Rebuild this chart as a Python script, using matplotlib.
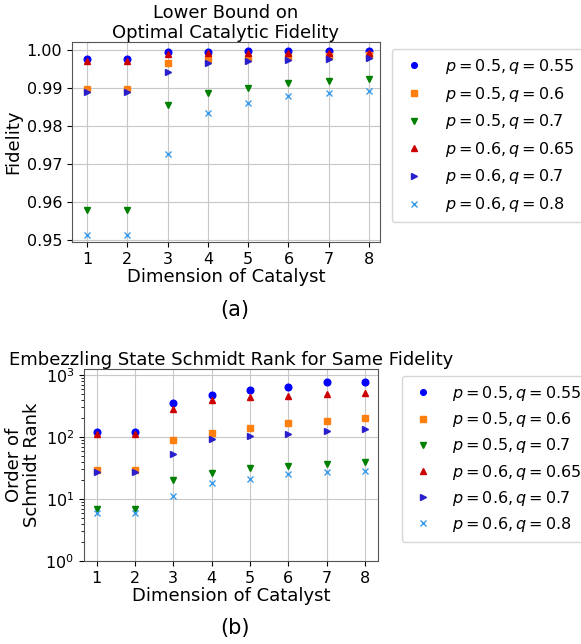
import numpy as np
import matplotlib.pyplot as plt

# Catalyst dimensions
dims = [1, 2, 3, 4, 5, 6, 7, 8]

labels = [r"$p=0.5, q=0.55$", r"$p=0.5, q=0.6$", r"$p=0.5, q=0.7$",
          r"$p=0.6, q=0.65$", r"$p=0.6, q=0.7$", r"$p=0.6, q=0.8$"]
markers = ["o", "s", "v", "^", ">", "x"]
colors = ["blue", "#ff7f0e", "green", "#cc0000", "#2a1fcc", "#3a9bea"]

# Fidelity (panel a)
fid_055 = [0.99754, 0.99754, 0.99938, 0.99960, 0.99962, 0.99964, 0.99968, 0.99968]
fid_06 = [0.98988, 0.98988, 0.99657, 0.99770, 0.99800, 0.99820, 0.99850, 0.99870]
fid_07 = [0.95792, 0.95792, 0.98556, 0.98870, 0.99010, 0.99140, 0.99190, 0.99250]
fid_065 = [0.99710, 0.99710, 0.99890, 0.99910, 0.99920, 0.99925, 0.99930, 0.99930]
fid_p6_07 = [0.98900, 0.98900, 0.99430, 0.99670, 0.99700, 0.99750, 0.99760, 0.99790]
fid_08 = [0.95140, 0.95140, 0.97280, 0.98350, 0.98600, 0.98790, 0.98860, 0.98930]

# Schmidt rank (panel b)
rank_055 = [120, 120, 355, 470, 580, 640, 770, 770]
rank_06 = [29, 29, 89, 117, 141, 168, 183, 201]
rank_07 = [7, 7, 20, 26, 32, 34, 37, 40]
rank_065 = [110, 110, 285, 395, 435, 455, 500, 515]
rank_p6_07 = [27, 27, 53, 94, 102, 112, 124, 134]
rank_08 = [6, 6, 11, 18, 21, 25, 27, 28]

fids = [fid_055, fid_06, fid_07, fid_065, fid_p6_07, fid_08]
ranks = [rank_055, rank_06, rank_07, rank_065, rank_p6_07, rank_08]

plt.rcParams['font.size'] = 13
plt.rcParams['xtick.labelsize'] = 11.5
plt.rcParams['ytick.labelsize'] = 11.5

fig = plt.figure(figsize=(5.81, 6.44), dpi=100)
W, H = 581, 644
ax1 = fig.add_axes([72 / W, 1 - 242 / H, 308 / W, 200 / H])
ax2 = fig.add_axes([84 / W, 1 - 561 / H, 294 / W, 192 / H])

for vals, lab, m, c in zip(fids, labels, markers, colors):
    ax1.plot(dims, vals, linestyle="none", marker=m, color=c, markersize=4.8, label=lab)
for vals, lab, m, c in zip(ranks, labels, markers, colors):
    ax2.plot(dims, vals, linestyle="none", marker=m, color=c, markersize=4.8, label=lab)

ax1.set_ylim(0.9496, 1.0021)
ax1.set_yticks([0.95, 0.96, 0.97, 0.98, 0.99, 1.00])
ax1.set_xlim(0.63, 8.27)
ax1.set_xticks(dims)
ax1.grid(True, color="#c8c8c8")
ax1.set_axisbelow(True)
ax1.set_ylabel("Fidelity", labelpad=3)
ax1.set_xlabel("Dimension of Catalyst", labelpad=1)
ax1.set_title("Lower Bound on\nOptimal Catalytic Fidelity", pad=3, fontsize=13,
              linespacing=1.1)

ax2.set_yscale("log")
ax2.set_ylim(1, 1250)
ax2.set_xlim(0.67, 8.34)
ax2.set_xticks(dims)
ax2.grid(True, color="#c8c8c8")
ax2.set_axisbelow(True)
ax2.set_ylabel("Order of\nSchmidt Rank", labelpad=3, linespacing=1.0)
ax2.set_xlabel("Dimension of Catalyst", labelpad=1)
ax2.set_title("Embezzling State Schmidt Rank for Same Fidelity", pad=3, fontsize=13)

for ax in (ax1, ax2):
    for s in ax.spines.values():
        s.set_color("#555555")

ax1.legend(loc="upper left", bbox_to_anchor=(392 / W, 1 - 49 / H),
           bbox_transform=fig.transFigure, labelspacing=0.54, handlelength=1.8,
           handletextpad=1.0, borderpad=0.5, borderaxespad=0, fontsize=11.5,
           markerscale=0.85)
ax2.legend(loc="upper left", bbox_to_anchor=(402 / W, 1 - 376 / H),
           bbox_transform=fig.transFigure, labelspacing=0.45, handlelength=1.6,
           handletextpad=1.0, borderpad=0.5, borderaxespad=0, fontsize=11.5,
           markerscale=0.85)

fig.text(235 / W, 1 - 310 / H, "(a)", ha="center", va="center", fontsize=15)
fig.text(235 / W, 1 - 628 / H, "(b)", ha="center", va="center", fontsize=15)

fig.savefig("out.png", dpi=100)
